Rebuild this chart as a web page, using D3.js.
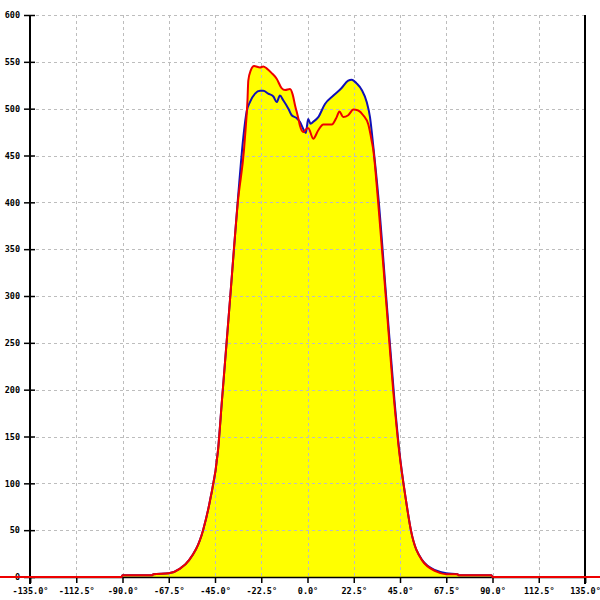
<!DOCTYPE html>
<html>
<head>
<meta charset="utf-8">
<script src="https://cdn.jsdelivr.net/npm/d3@7/dist/d3.min.js"></script>
<style>
  html, body { margin: 0; padding: 0; background: #fff; }
  svg { display: block; }
  text { font-family: "DejaVu Sans Mono", monospace; font-size: 8.5px; fill: #000; }
</style>
</head>
<body>
<svg id="chart" width="600" height="600"></svg>
<script>
// ---- data ----
const xTicks = [-135, -112.5, -90, -67.5, -45, -22.5, 0, 22.5, 45, 67.5, 90, 112.5, 135];
const yTicks = [0, 50, 100, 150, 200, 250, 300, 350, 400, 450, 500, 550, 600];

const redAngles = [-150, -90.5, -90, -75.5, -75, -67.5, -62, -57.6, -50.8, -47.4, -43.5, -41.6, -37.7, -33.8, -30.9, -30.4,
  -29.2, -28.8, -27.6, -26, -23.1, -21.5, -19.9, -17.4, -15, -12.6, -10.9, -8.5, -7.2, -6.1, -4.5, -3.7, -2, -0.1, 0.4,
  2.8, 5.25, 7.7, 11.8, 14.2, 15.5, 17.4, 19.8, 22.3, 24.7, 27.1, 29.6, 31.2, 32, 34.3, 38.2, 42.1, 44.5, 47.9, 50.3,
  55.7, 62.5, 67.5, 73, 73.5, 89.5, 90, 150];
const redValues = [0, 0, 2, 2, 3, 4, 9, 18, 50, 82, 136, 189, 296, 402, 456, 470,
  509, 530, 541, 545.5, 544, 545, 543, 538, 532, 522, 520, 521, 515, 504, 490, 482, 475, 479, 479,
  468, 477, 483, 483, 491, 497, 491, 493, 499, 498, 493, 483, 466, 456, 402, 296, 189, 136, 82, 50,
  18, 6, 3, 3, 2, 2, 0, 0];

const blueAngles = [-150, -90.5, -90, -75.5, -75, -67.5, -62, -57.6, -50.8, -47.4, -43.5, -41.6, -37.7, -33.8, -31.2,
  -29.6, -28, -25.5, -23.1, -21.5, -19.1, -16.6, -15, -13.4, -11.8, -9.3, -7.7, -5.3, -3.7, -2, -0.8, 0.3, 1.5,
  2.8, 5.25, 8.5, 12.6, 16.6, 19.8, 21.5, 23.9, 26.4, 28.8, 30.4, 32, 34.5, 38.4, 42.3, 44.6, 47.9, 50.3,
  55.8, 62.5, 67.5, 73, 73.5, 89.5, 90, 150];
const blueValues = [0, 0, 2, 2, 3, 4, 9, 18, 50, 82, 136, 189, 296, 405, 470,
  497, 507, 516, 519, 519, 516, 513, 507, 514, 509, 500, 493, 490, 486, 478, 474, 489, 484,
  486, 491, 505, 514, 522, 530, 531, 527, 520, 507, 491, 460, 405, 296, 189, 136, 82, 50,
  18, 7, 4, 3, 2, 2, 0, 0];

const red = redAngles.map((a, i) => ({ a, v: redValues[i] }));
const blue = blueAngles.map((a, i) => ({ a, v: blueValues[i] }));

// ---- chart ----
const svg = d3.select("#chart");
const x = d3.scaleLinear().domain([-135, 135]).range([30, 585]);
const y = d3.scaleLinear().domain([0, 600]).range([577, 15]);

const area = d3.area().curve(d3.curveMonotoneX).x(d => x(d.a)).y0(y(0)).y1(d => y(d.v));
const line = d3.line().curve(d3.curveMonotoneX).x(d => x(d.a)).y(d => y(d.v));

// yellow fills
svg.append("path").datum(red).attr("d", area).attr("fill", "#ffff00");
svg.append("path").datum(blue).attr("d", area).attr("fill", "#ffff00");

// grid
const grid = svg.append("g").attr("stroke", "#bdbdbd").attr("stroke-width", 1).attr("stroke-dasharray", "3,3");
grid.selectAll("line.v").data(xTicks.filter(t => t > -135 && t < 135)).join("line")
  .attr("x1", d => Math.round(x(d)) + 0.5).attr("x2", d => Math.round(x(d)) + 0.5)
  .attr("y1", y(600)).attr("y2", y(0));
grid.selectAll("line.h").data(yTicks.filter(t => t > 0)).join("line")
  .attr("x1", x(-135)).attr("x2", x(135))
  .attr("y1", d => Math.round(y(d)) + 0.5).attr("y2", d => Math.round(y(d)) + 0.5);

// left axis
const yAxis = d3.axisLeft(y).tickValues(yTicks).tickSize(6).tickPadding(4).tickFormat(d3.format("d"));
const gy = svg.append("g").attr("transform", "translate(30,0)").call(yAxis);
gy.select(".domain").remove();
gy.selectAll(".tick line").attr("x1", 5).attr("x2", -6).attr("stroke", "#000").attr("stroke-width", 1.5);
gy.selectAll("text").attr("font-weight", "bold");

svg.append("line").attr("x1", 30).attr("x2", 30).attr("y1", y(600)).attr("y2", 584)
  .attr("stroke", "#000").attr("stroke-width", 2);
svg.append("line").attr("x1", 585).attr("x2", 585).attr("y1", y(600)).attr("y2", 584)
  .attr("stroke", "#000").attr("stroke-width", 2);

// bottom axis
const xAxis = d3.axisBottom(x).tickValues(xTicks).tickSize(6).tickPadding(5)
  .tickFormat(d => d3.format(".1f")(d).replace("−", "-") + "°");
const gx = svg.append("g").attr("transform", "translate(0,577)").call(xAxis);
gx.select(".domain").attr("stroke", "#000").attr("stroke-width", 1.5);
gx.selectAll(".tick line").attr("stroke", "#000").attr("stroke-width", 1.5);
gx.selectAll("text").attr("font-weight", "bold");

// lines
svg.append("path").datum(blue).attr("d", line).attr("fill", "none")
  .attr("stroke", "#1010b8").attr("stroke-width", 2).attr("stroke-linejoin", "round");
svg.append("path").datum(red).attr("d", line).attr("fill", "none")
  .attr("stroke", "#ee0000").attr("stroke-width", 2).attr("stroke-linejoin", "round");
</script>
</body>
</html>
